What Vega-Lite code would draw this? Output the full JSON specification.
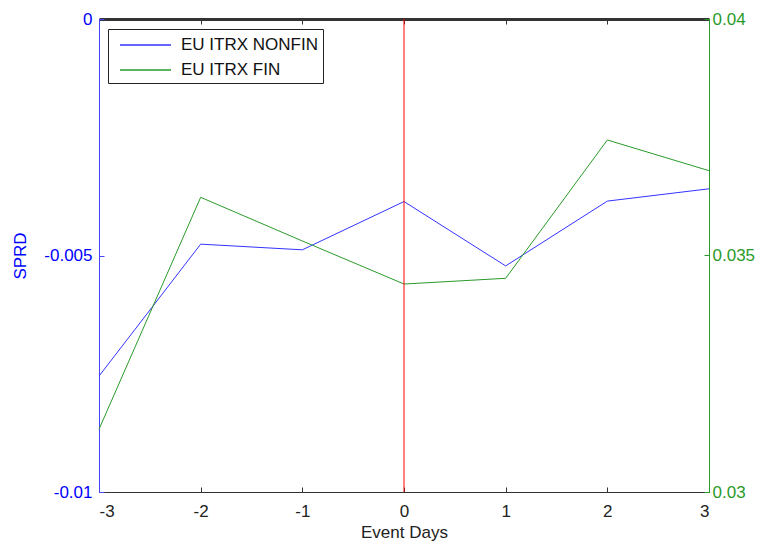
{
  "$schema": "https://vega.github.io/schema/vega-lite/v6.json",
  "width": 610,
  "height": 473,
  "autosize": {"type": "none"},
  "padding": {"left": 99, "top": 19, "right": 53, "bottom": 56},
  "background": "white",
  "config": {
    "view": {"stroke": null},
    "font": "Liberation Sans",
    "axis": {"grid": false, "labelFontSize": 17, "titleFontSize": 17, "titleFontWeight": "normal", "tickSize": -5, "tickWidth": 1, "labelFont": "Liberation Sans", "titleFont": "Liberation Sans", "labelExpr": "replace(datum.label, '\u2212', '-')"}
  },
  "datasets": {
    "spreads": [
      {"day": -3, "series": "EU ITRX NONFIN", "value": -0.00755},
      {"day": -2, "series": "EU ITRX NONFIN", "value": -0.00476},
      {"day": -1, "series": "EU ITRX NONFIN", "value": -0.00488},
      {"day": 0, "series": "EU ITRX NONFIN", "value": -0.00386},
      {"day": 1, "series": "EU ITRX NONFIN", "value": -0.00522},
      {"day": 2, "series": "EU ITRX NONFIN", "value": -0.00385},
      {"day": 3, "series": "EU ITRX NONFIN", "value": -0.00359},
      {"day": -3, "series": "EU ITRX FIN", "value": 0.031326},
      {"day": -2, "series": "EU ITRX FIN", "value": 0.03623},
      {"day": -1, "series": "EU ITRX FIN", "value": 0.035307},
      {"day": 0, "series": "EU ITRX FIN", "value": 0.034397},
      {"day": 1, "series": "EU ITRX FIN", "value": 0.034518},
      {"day": 2, "series": "EU ITRX FIN", "value": 0.037442},
      {"day": 3, "series": "EU ITRX FIN", "value": 0.036793}
    ]
  },
  "layer": [
    {
      "data": {"name": "spreads"},
      "transform": [{"filter": "datum.series === 'EU ITRX NONFIN'"}],
      "mark": {"type": "line", "strokeWidth": 1},
      "encoding": {
        "x": {"field": "day", "type": "quantitative", "scale": {"domain": [-3, 3], "nice": false, "zero": false},
          "axis": {"orient": "bottom", "values": [-3, -2, -1, 0, 1, 2, 3], "format": "d", "title": "Event Days", "titleColor": "#222222", "labelColor": "#222222", "domainColor": "#333333", "tickColor": "#333333", "labelPadding": 16, "titlePadding": 5}},
        "y": {"field": "value", "type": "quantitative", "scale": {"domain": [-0.01, 0], "nice": false, "zero": false},
          "axis": {"orient": "left", "values": [-0.01, -0.005, 0], "format": "~g", "title": "SPRD", "titleColor": "#0000FF", "labelColor": "#0000FF", "domainColor": "#4444FF", "tickColor": "#4444FF", "labelPadding": 12, "titlePadding": 14}},
        "color": {"field": "series", "type": "nominal",
          "scale": {"domain": ["EU ITRX NONFIN", "EU ITRX FIN"], "range": ["#3333FF", "#2A9A2A"]},
          "legend": {"title": null, "orient": "none", "legendX": 9, "legendY": 10, "symbolType": "M-0.4,0H4.7", "symbolSize": 400, "symbolStrokeWidth": 1.5, "labelFontSize": 17, "labelFont": "Liberation Sans", "labelColor": "#111111", "strokeColor": "#222222", "padding": 5, "rowPadding": 6, "fillColor": "white", "labelOffset": 46}}
      }
    },
    {
      "data": {"name": "spreads"},
      "transform": [{"filter": "datum.series === 'EU ITRX FIN'"}],
      "mark": {"type": "line", "strokeWidth": 1},
      "encoding": {
        "x": {"field": "day", "type": "quantitative", "scale": {"domain": [-3, 3], "nice": false, "zero": false},
          "axis": {"orient": "top", "values": [-3, -2, -1, 0, 1, 2, 3], "labels": false, "title": null, "domain": true, "ticks": true, "domainColor": "#333333", "domainWidth": 3, "tickColor": "#333333"}},
        "y": {"field": "value", "type": "quantitative", "scale": {"domain": [0.03, 0.04], "nice": false, "zero": false},
          "axis": {"orient": "right", "values": [0.03, 0.035, 0.04], "format": "~g", "title": null, "labelColor": "#2A9A2A", "domainColor": "#2A9A2A", "tickColor": "#2A9A2A", "labelPadding": 8}},
        "color": {"field": "series", "type": "nominal"}
      }
    },
    {
      "data": {"values": [{"day": 0}]},
      "mark": {"type": "rule", "color": "#FF0000", "strokeWidth": 1},
      "encoding": {"x": {"field": "day", "type": "quantitative", "axis": null}}
    }
  ],
  "resolve": {"scale": {"y": "independent"}, "axis": {"x": "independent"}}
}
